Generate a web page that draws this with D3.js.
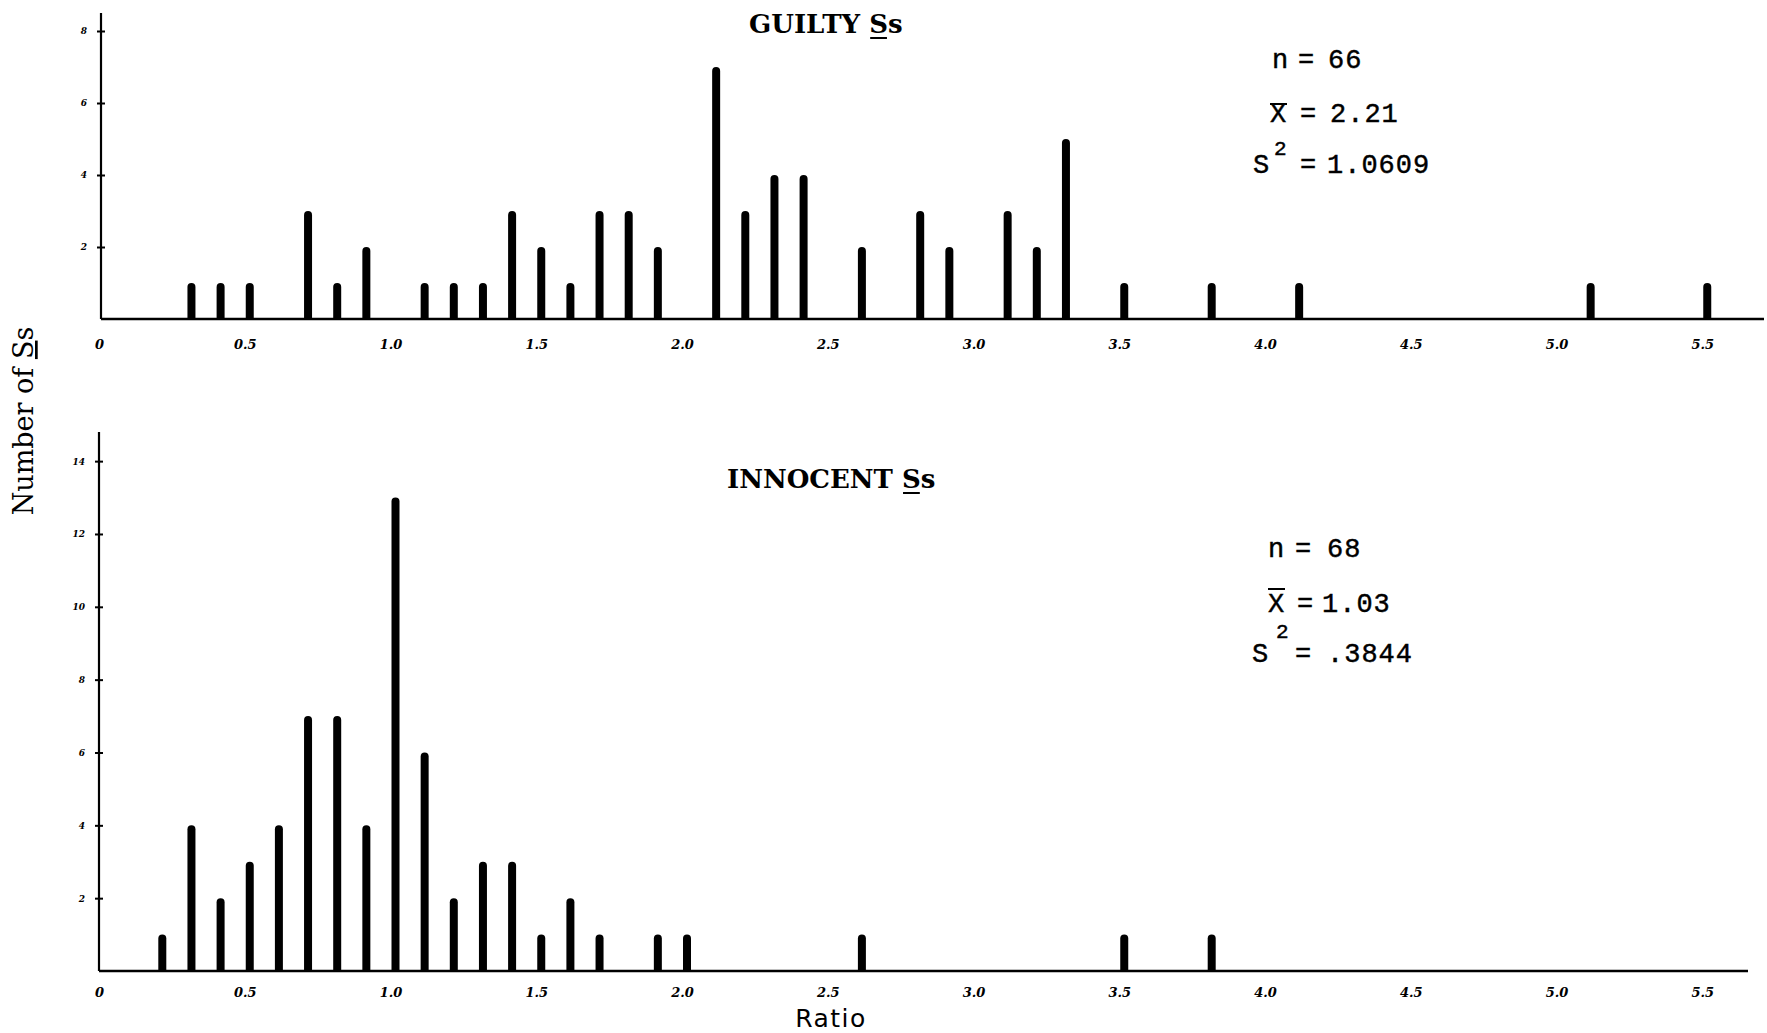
<!DOCTYPE html>
<html>
<head>
<meta charset="utf-8">
<script src="https://cdn.jsdelivr.net/npm/d3@7"></script>
<style>
  html, body { margin: 0; padding: 0; background: #fff; }
  svg { display: block; }
</style>
</head>
<body>
<script>
// ---------------- DATA ----------------
const guiltyRatios = [0.3,0.4,0.5,0.7,0.8,0.9,1.1,1.2,1.3,1.4,1.5,1.6,1.7,1.8,1.9,2.1,2.2,2.3,2.4,2.6,2.8,2.9,3.1,3.2,3.3,3.5,3.8,4.1,5.1,5.5];
const guiltyCounts = [1,1,1,3,1,2,1,1,1,3,2,1,3,3,2,7,3,4,4,2,3,2,3,2,5,1,1,1,1,1];
const innocentRatios = [0.2,0.3,0.4,0.5,0.6,0.7,0.8,0.9,1.0,1.1,1.2,1.3,1.4,1.5,1.6,1.7,1.9,2.0,2.6,3.5,3.8];
const innocentCounts = [1,4,2,3,4,7,7,4,13,6,2,3,3,1,2,1,1,1,1,1,1];
const xTickValues = [0,0.5,1.0,1.5,2.0,2.5,3.0,3.5,4.0,4.5,5.0,5.5];
const xTickLabels = ["0","0.5","1.0","1.5","2.0","2.5","3.0","3.5","4.0","4.5","5.0","5.5"];
const guiltyYTicks = [2,4,6,8];
const innocentYTicks = [2,4,6,8,10,12,14];
const guiltyStats = {n: "66", mean: "2.21", variance: "1.0609"};
const innocentStats = {n: "68", mean: "1.03", variance: ".3844"};

// ---------------- LAYOUT ----------------
const W = 1767, H = 1033;
const svg = d3.select("body").append("svg").attr("width", W).attr("height", H);
svg.append("rect").attr("width", W).attr("height", H).attr("fill", "#fff");

const x = d3.scaleLinear().domain([0, 5.5]).range([104, 104 + 291.5 * 5.5]);

const panels = [
  {ratios: guiltyRatios, counts: guiltyCounts, yTicks: guiltyYTicks, yMax: 8.5,
   base: 319, top: 13, axisX: 101, xEnd: 1764, labelDy: 25,
   title: "GUILTY", titleX: 749, titleY: 33, stats: guiltyStats,
   st: {n: [1272, 1298, 1328, 68], x: [1270, 1300, 1330, 122, 104],
        s: [1253, 1274, 1300, 1327, 173, 155]}},
  {ratios: innocentRatios, counts: innocentCounts, yTicks: innocentYTicks, yMax: 14.8,
   base: 971, top: 432, axisX: 99, xEnd: 1748, labelDy: 21,
   title: "INNOCENT", titleX: 727, titleY: 488, stats: innocentStats,
   st: {n: [1268, 1295, 1327, 557], x: [1268, 1297, 1322, 612, 589],
        s: [1252, 1276, 1295, 1327, 662, 638]}}
];

const barW = 8;

panels.forEach(p => {
  const y = d3.scaleLinear().domain([0, p.yMax]).range([p.base, p.top]);
  const g = svg.append("g");

  // bars
  g.selectAll("path.bar").data(p.ratios.map((r, i) => ({r, c: p.counts[i]})))
    .enter().append("path")
    .attr("class", "bar")
    .attr("fill", "#000")
    .attr("d", d => {
      const cx = x(d.r), y0 = y(0), y1 = y(d.c), h = barW / 2, rr = 4;
      return `M${cx - h},${y0} L${cx - h},${y1 + rr} Q${cx - h},${y1} ${cx},${y1} Q${cx + h},${y1} ${cx + h},${y1 + rr} L${cx + h},${y0} Z`;
    });

  // x axis line
  g.append("line")
    .attr("x1", p.axisX).attr("x2", p.xEnd)
    .attr("y1", y(0)).attr("y2", y(0))
    .attr("stroke", "#000").attr("stroke-width", 2.6);

  // y axis line
  g.append("line")
    .attr("x1", p.axisX).attr("x2", p.axisX)
    .attr("y1", y(0)).attr("y2", y(p.yMax))
    .attr("stroke", "#000").attr("stroke-width", 2.2);

  // x tick labels
  const xa = g.append("g")
    .attr("transform", `translate(0,${y(0)})`)
    .call(d3.axisBottom(x).tickValues(xTickValues)
      .tickFormat((d, i) => xTickLabels[i]).tickSize(0));
  xa.select(".domain").remove();
  xa.selectAll("text")
    .attr("y", p.labelDy).attr("dy", "0.35em").attr("dx", -5)
    .attr("font-family", "DejaVu Serif").attr("font-style", "italic")
    .attr("font-weight", "bold").attr("font-size", 13).attr("fill", "#000");

  // y ticks
  const ya = g.append("g")
    .attr("transform", `translate(${p.axisX},0)`)
    .call(d3.axisLeft(y).tickValues(p.yTicks).tickSize(4).tickPadding(10));
  ya.select(".domain").remove();
  ya.selectAll("line").attr("x1", -4).attr("x2", 4).attr("stroke", "#000").attr("stroke-width", 2);
  ya.selectAll("text")
    .attr("font-family", "DejaVu Serif").attr("font-style", "italic")
    .attr("font-weight", "bold").attr("font-size", 9).attr("fill", "#000");

  // title
  const t = svg.append("text")
    .attr("x", p.titleX).attr("y", p.titleY)
    .attr("font-family", "DejaVu Serif").attr("font-weight", "bold")
    .attr("font-size", 26).attr("fill", "#000");
  t.append("tspan").text(p.title + " ");
  const sSpan = t.append("tspan").text("S");
  t.append("tspan").text("s");
  const sLen = sSpan.node().getComputedTextLength();
  const sStart = t.node().getStartPositionOfChar((p.title + " ").length).x;
  svg.append("line")
    .attr("x1", sStart + 1).attr("x2", sStart + sLen - 1)
    .attr("y1", p.titleY + 5).attr("y2", p.titleY + 5)
    .attr("stroke", "#000").attr("stroke-width", 2);

  // stats (typewriter style)
  const st = (txt, xx, yy, fs) => svg.append("text").attr("x", xx).attr("y", yy)
    .attr("font-family", "Liberation Mono")
    .attr("font-size", fs || 27).attr("letter-spacing", 1)
    .attr("fill", "#000").attr("stroke", "#000").attr("stroke-width", 0.45)
    .text(txt);
  const S = p.st;
  st("n", S.n[0], S.n[3]);
  st("=", S.n[1], S.n[3]);
  st(p.stats.n, S.n[2], S.n[3]);
  st("X", S.x[0], S.x[3]);
  svg.append("line").attr("x1", S.x[0]).attr("x2", S.x[0] + 17)
    .attr("y1", S.x[4]).attr("y2", S.x[4])
    .attr("stroke", "#000").attr("stroke-width", 2);
  st("=", S.x[1], S.x[3]);
  st(p.stats.mean, S.x[2], S.x[3]);
  st("S", S.s[0], S.s[4]);
  st("2", S.s[1], S.s[5], 21);
  st("=", S.s[2], S.s[4]);
  st(p.stats.variance, S.s[3], S.s[4]);
});

// axis titles
svg.append("text")
  .attr("transform", "translate(33,421) rotate(-90)")
  .attr("text-anchor", "middle")
  .attr("font-family", "DejaVu Serif").attr("font-size", 27).attr("fill", "#000")
  .call(s => {
    s.append("tspan").text("Number of ");
    s.append("tspan").attr("text-decoration", "underline").text("S");
    s.append("tspan").text("s");
  });

svg.append("text")
  .attr("x", 831).attr("y", 1027).attr("text-anchor", "middle")
  .attr("font-family", "DejaVu Sans").attr("font-size", 25)
  .attr("letter-spacing", 1.5).attr("fill", "#000")
  .text("Ratio");
</script>
</body>
</html>
